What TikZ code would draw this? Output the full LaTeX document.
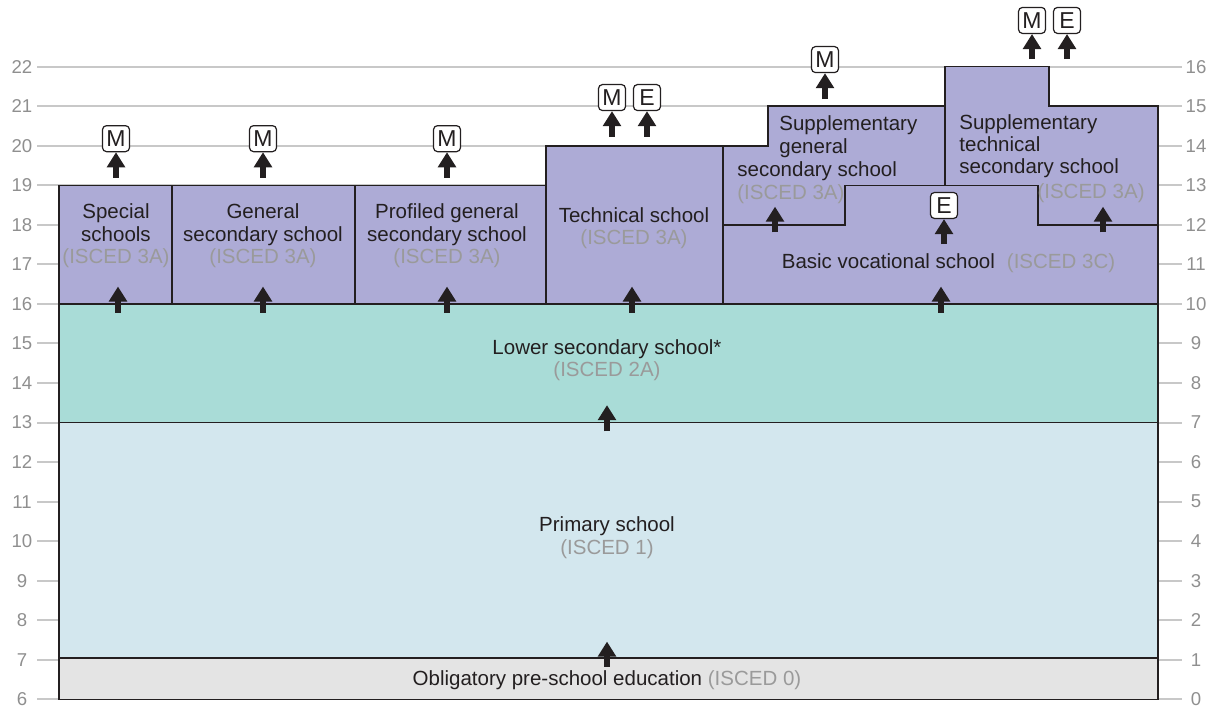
\documentclass[tikz,border=0pt]{standalone}
\usepackage{fontspec}
\setmainfont{Liberation Sans}
\usetikzlibrary{arrows.meta}

\definecolor{uppersec}{HTML}{ADABD6}
\definecolor{lowersec}{HTML}{A9DCD7}
\definecolor{primary}{HTML}{D3E7EE}
\definecolor{preschool}{HTML}{E4E4E4}
\definecolor{gridgray}{HTML}{C8C8C8}
\definecolor{axisgray}{HTML}{8F8F8F}
\definecolor{iscedgray}{HTML}{9A9A9A}
\definecolor{ink}{HTML}{231F20}

\newcommand{\isced}[1]{\textcolor{iscedgray}{#1}}

\tikzset{
  gridline/.style={draw=gridgray, line width=1pt},
  axislbl/.style={text=axisgray, font=\fontsize{9.3}{10}\selectfont, inner sep=0pt},
  border/.style={draw=ink, line width=0.8pt},
  lbl/.style={text=ink, align=center, inner sep=0pt, font=\fontsize{10.25}{11.2}\selectfont},
  lblleft/.style={lbl, align=left},
  lblright/.style={lbl, align=right},
  exambox/.style={draw=ink, fill=white, rounded corners=2pt, line width=0.6pt,
    minimum width=13.5pt, minimum height=13pt, inner sep=0pt, text=ink,
    font=\fontsize{11.5}{11.5}\selectfont},
  uparr/.style={draw=ink, line width=2.6pt, -{Triangle[width=8.8pt,length=7.5pt]}}
}

\begin{document}
\begin{tikzpicture}[x=0.5pt, y=19.77pt]
  \useasboundingbox (0,5.781) rectangle (1219,23.687);

  % age scale left, school year scale right
  \foreach \y in {6,...,22} {
    \pgfmathtruncatemacro{\g}{\y-6}
    \draw[gridline] (37,\y) -- (1182,\y);
    \node[axislbl] (age\y) at (22,\y) {\y};
    \node[axislbl] (yr\y) at (1196,\y) {\g};
  }

  % bands
  \fill[preschool] (59,6) rectangle (1158,7.04);
  \fill[primary] (59,7.04) rectangle (1158,13);
  \fill[lowersec] (59,13) rectangle (1158,16);
  \fill[uppersec] (59,16) -- (59,19) -- (546,19) -- (546,20) -- (768,20) -- (768,21)
    -- (945,21) -- (945,22) -- (1049,22) -- (1049,21) -- (1158,21) -- (1158,16) -- cycle;

  % outlines
  \draw[border] (59,6) rectangle (1158,7.04);
  \draw[border] (59,7.04) rectangle (1158,13);
  \draw[border] (59,13) rectangle (1158,16);
  \draw[border] (59,16) -- (59,19) -- (546,19) -- (546,20) -- (768,20) -- (768,21)
    -- (945,21) -- (945,22) -- (1049,22) -- (1049,21) -- (1158,21) -- (1158,16);
  \draw[border] (172,16) -- (172,19);
  \draw[border] (355,16) -- (355,19);
  \draw[border] (546,16) -- (546,19);
  \draw[border] (723,16) -- (723,20);
  \draw[border] (945,19) -- (945,21);
  \draw[border] (723,18) -- (845,18) -- (845,19) -- (1038,19) -- (1038,18) -- (1158,18);

  % school names
  \node[lbl] (special) at (116,17.72) {Special\\schools\\\isced{(ISCED 3A)}};
  \node[lbl] (general) at (263,17.72) {General\\secondary school\\\isced{(ISCED 3A)}};
  \node[lbl] (profiled) at (447,17.72) {Profiled general\\secondary school\\\isced{(ISCED 3A)}};
  \node[lbl] (technical) at (634,17.91) {Technical school\\\isced{(ISCED 3A)}};
  \node[lblleft, anchor=west] (suppgen) at (779,20.23) {Supplementary\\general};
  \node[lblleft, anchor=west] (suppgenb) at (737,19.07) {secondary school\\\isced{(ISCED 3A)}};
  \node[lblleft, anchor=west] (supptech) at (959,19.99) {Supplementary\\technical\\secondary school};
  \node[lblright, anchor=east] (supptechb) at (1145,18.81) {\isced{(ISCED 3A)}};
  \node[lbl] (vocational) at (948.5,17.03) {Basic vocational school\hspace{6pt}\isced{(ISCED 3C)}};
  \node[lbl] (lower) at (607,14.58) {Lower secondary school*\\\isced{(ISCED 2A)}};
  \node[lbl] (primaryschool) at (607,10.09) {Primary school\\\isced{(ISCED 1)}};
  \node[lbl] (pre) at (607,6.48) {Obligatory pre-school education \isced{(ISCED 0)}};

  % transitions between levels
  \foreach \x [count=\i] in {118,263,447,632,941} {
    \coordinate (up\i) at (\x,15.78);
    \coordinate (in\i) at (\x,16.44);
    \draw[uparr] (up\i) -- (in\i);
  }
  \foreach \x [count=\i] in {775,1103} {
    \coordinate (vup\i) at (\x,17.81);
    \coordinate (vin\i) at (\x,18.46);
    \draw[uparr] (vup\i) -- (vin\i);
  }
  \coordinate (pup) at (607,12.78);
  \coordinate (pin) at (607,13.44);
  \draw[uparr] (pup) -- (pin);
  \coordinate (kup) at (607,6.83);
  \coordinate (kin) at (607,7.46);
  \draw[uparr] (kup) -- (kin);

  % final exams
  \node[exambox] (m1) at (116,20.18) {M};
  \node[exambox] (m2) at (263,20.18) {M};
  \node[exambox] (m3) at (447,20.18) {M};
  \node[exambox] (m4) at (612,21.22) {M};
  \node[exambox] (e4) at (647,21.22) {E};
  \node[exambox] (m5) at (825,22.18) {M};
  \node[exambox] (m6) at (1032,23.17) {M};
  \node[exambox] (e6) at (1067,23.17) {E};
  \node[exambox] (e7) at (944,18.49) {E};

  \coordinate (t1) at (116,19.19);
  \coordinate (t2) at (263,19.19);
  \coordinate (t3) at (447,19.19);
  \coordinate (t4) at (612,20.23);
  \coordinate (s4) at (647,20.23);
  \coordinate (t5) at (825,21.18);
  \coordinate (t6) at (1032,22.19);
  \coordinate (s6) at (1067,22.19);
  \coordinate (s7) at (944,17.51);
  \draw[uparr] (t1) -- (m1);
  \draw[uparr] (t2) -- (m2);
  \draw[uparr] (t3) -- (m3);
  \draw[uparr] (t4) -- (m4);
  \draw[uparr] (s4) -- (e4);
  \draw[uparr] (t5) -- (m5);
  \draw[uparr] (t6) -- (m6);
  \draw[uparr] (s6) -- (e6);
  \draw[uparr] (s7) -- (e7);
\end{tikzpicture}
\end{document}
